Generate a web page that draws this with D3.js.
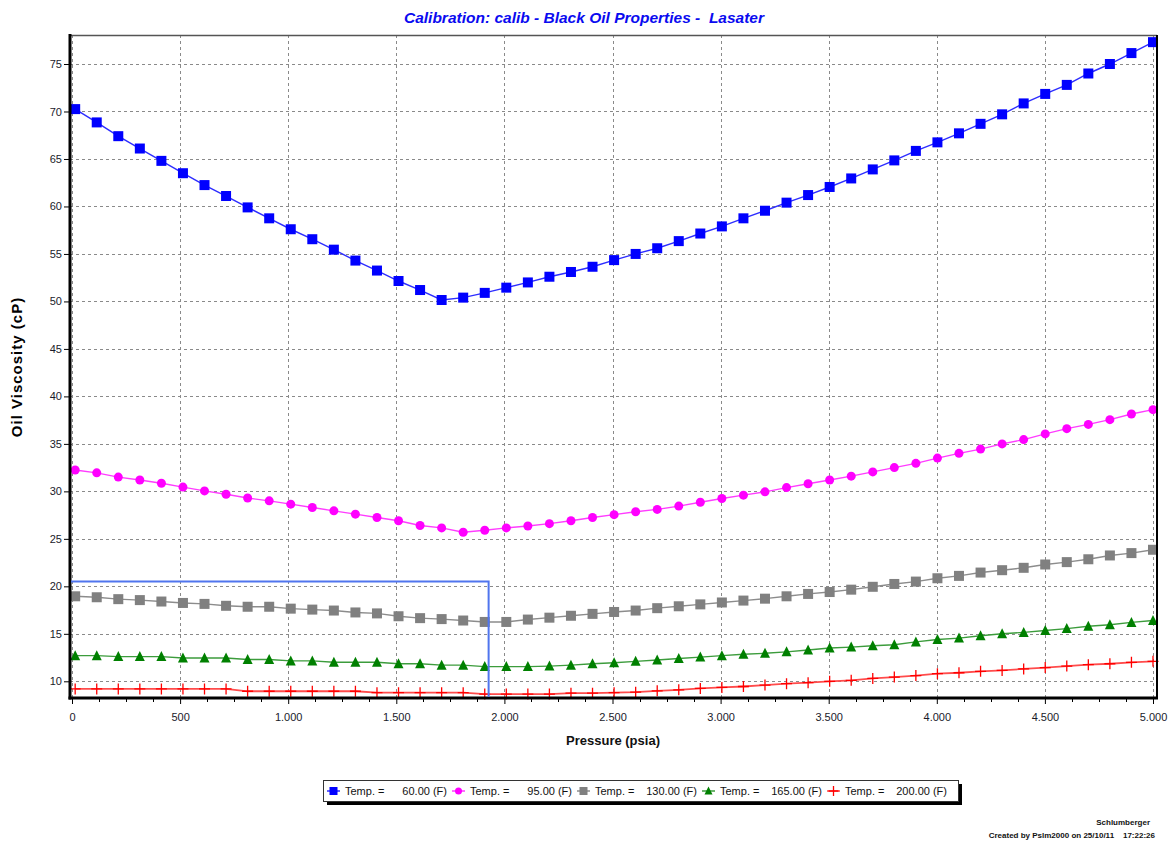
<!DOCTYPE html>
<html><head><meta charset="utf-8">
<script src="https://cdn.jsdelivr.net/npm/d3@7"></script>
<style>
html,body{margin:0;padding:0;background:#fff;}
svg{display:block;font-family:"Liberation Sans",Arial,sans-serif;}
text{white-space:pre;}
</style></head><body>
<svg id="chart" width="1176" height="844"></svg>
<script>
// ---------- data ----------
const pressure = [14.7,114.4,214.1,313.8,413.5,513.2,612.9,712.6,812.3,912.1,1011.8,1111.5,1211.2,1310.9,1410.6,1510.3,1610.0,1709.7,1809.4,1909.1,2008.8,2108.5,2208.2,2307.9,2407.6,2507.4,2607.1,2706.8,2806.5,2906.2,3005.9,3105.6,3205.3,3305.0,3404.7,3504.4,3604.1,3703.8,3803.5,3903.2,4002.9,4102.6,4202.4,4302.1,4401.8,4501.5,4601.2,4700.9,4800.6,4900.3,5000.0];
const visc60 = [70.25,68.85,67.4,66.1,64.8,63.5,62.25,61.1,59.9,58.75,57.6,56.55,55.45,54.3,53.25,52.15,51.2,50.15,50.4,50.9,51.45,52.0,52.6,53.1,53.65,54.35,55.0,55.6,56.35,57.15,57.9,58.75,59.55,60.4,61.2,62.05,62.95,63.9,64.85,65.85,66.75,67.7,68.7,69.7,70.85,71.85,72.8,74.0,75.0,76.15,77.3];
const visc95 = [32.25,31.95,31.5,31.2,30.85,30.45,30.05,29.7,29.3,29.0,28.65,28.3,27.95,27.6,27.25,26.9,26.4,26.15,25.7,25.9,26.15,26.35,26.6,26.9,27.25,27.55,27.85,28.1,28.45,28.85,29.25,29.6,29.95,30.4,30.8,31.2,31.6,32.05,32.5,32.95,33.5,34.0,34.45,35.0,35.45,36.05,36.6,37.05,37.55,38.15,38.6];
const visc130 = [18.95,18.85,18.65,18.55,18.4,18.25,18.15,17.95,17.85,17.85,17.65,17.55,17.45,17.25,17.15,16.85,16.65,16.55,16.4,16.25,16.25,16.5,16.7,16.9,17.1,17.3,17.45,17.7,17.9,18.1,18.3,18.5,18.7,18.95,19.2,19.4,19.65,19.95,20.25,20.5,20.85,21.1,21.45,21.7,21.95,22.3,22.55,22.85,23.25,23.5,23.85];
const visc165 = [12.7,12.7,12.6,12.6,12.6,12.45,12.45,12.45,12.3,12.3,12.15,12.15,12.0,12.0,12.0,11.85,11.85,11.7,11.7,11.55,11.55,11.55,11.6,11.7,11.85,11.95,12.1,12.25,12.4,12.55,12.7,12.85,12.95,13.1,13.3,13.5,13.6,13.75,13.85,14.15,14.4,14.55,14.8,15.0,15.15,15.35,15.55,15.8,15.95,16.2,16.4];
const visc200 = [9.2,9.2,9.2,9.2,9.2,9.2,9.2,9.2,8.95,8.95,8.95,8.95,8.95,8.95,8.8,8.8,8.8,8.8,8.8,8.65,8.65,8.65,8.65,8.75,8.75,8.8,8.85,9.0,9.1,9.25,9.35,9.45,9.6,9.75,9.85,10.0,10.1,10.3,10.45,10.6,10.8,10.9,11.05,11.15,11.3,11.45,11.6,11.75,11.85,12.0,12.1];
const tempLabels = ["60.00 (F)","95.00 (F)","130.00 (F)","165.00 (F)","200.00 (F)"];
const xTicks = [0,500,1000,1500,2000,2500,3000,3500,4000,4500,5000];
const yTicks = [10,15,20,25,30,35,40,45,50,55,60,65,70,75];
const boxPressure = 1927;   // selection box corner (psia)
const boxVisc = 20.5;       // selection box corner (cP)

// ---------- layout ----------
const L = 70, R = 1157, T = 35, B = 698;
const svg = d3.select("#chart");
const x = d3.scaleLinear().domain([0, 5000]).range([72, 1153]);
const y = d3.scaleLinear().domain([10, 75]).range([681.3, 64]);

const series = [
  {v: visc60,  color:"#0000ff", line:"#2d2dff", sym:"square"},
  {v: visc95,  color:"#ff00ff", line:"#ff3cff", sym:"circle"},
  {v: visc130, color:"#808080", line:"#8c8c8c", sym:"square"},
  {v: visc165, color:"#008000", line:"#3c9c3c", sym:"triangle"},
  {v: visc200, color:"#ff0000", line:"#ff4c4c", sym:"plus"}
];

// grid
const grid = svg.append("g").attr("stroke","#8a8a8a").attr("stroke-width",1).attr("stroke-dasharray","3,3");
grid.selectAll(".gx").data(xTicks).join("line")
  .attr("x1",d=>Math.round(x(d))+0.5).attr("x2",d=>Math.round(x(d))+0.5).attr("y1",T).attr("y2",B);
grid.selectAll(".gy").data(yTicks).join("line")
  .attr("y1",d=>Math.round(y(d))+0.5).attr("y2",d=>Math.round(y(d))+0.5).attr("x1",L).attr("x2",R);

// marker drawer
function drawMarker(g, sym, color, size){
  const s = size;
  if (sym === "square") {
    g.append("rect").attr("x",-s/2).attr("y",-s/2).attr("width",s).attr("height",s).attr("fill",color);
  } else if (sym === "circle") {
    g.append("circle").attr("r",s/2 - 0.5).attr("fill",color);
  } else if (sym === "triangle") {
    g.append("path").attr("d",`M0,${-s/2-0.5}L${s/2},${s/2-0.5}L${-s/2},${s/2-0.5}Z`).attr("fill",color);
  } else if (sym === "plus") {
    g.append("path").attr("d",`M${-s/2},0H${s/2}M0,${-s/2}V${s/2}`).attr("stroke",color).attr("stroke-width",1.3).attr("fill","none");
  }
}

const lineGen = d3.line().x((d,i)=>x(pressure[i])).y(d=>y(d));
series.forEach(s=>{
  const g = svg.append("g");
  g.append("path").datum(s.v).attr("d",lineGen).attr("fill","none")
    .attr("stroke",s.line).attr("stroke-width", s.sym==="plus"?1.8:1.4);
  s.v.forEach((d,i)=>{
    const m = g.append("g").attr("transform",`translate(${x(pressure[i])},${y(d)})`);
    drawMarker(m, s.sym, s.color, s.sym==="circle"?10:(s.sym==="plus"?11:10));
  });
});

// axes
const locale = d3.formatLocale({decimal:",", thousands:".", grouping:[3], currency:["",""]});
const fmtX = locale.format(",d");
const xAxis = svg.append("g").attr("transform",`translate(0,${B+1})`)
  .call(d3.axisBottom(x).tickValues(xTicks).tickSize(5).tickPadding(9).tickFormat(fmtX));
const minor = d3.range(0,5001,125).filter(d=>d%500!==0);
svg.append("g").selectAll("line").data(minor).join("line")
  .attr("x1",d=>Math.round(x(d))+0.5).attr("x2",d=>Math.round(x(d))+0.5)
  .attr("y1",B+1).attr("y2",B+4).attr("stroke","#000");
const yAxis = svg.append("g").attr("transform",`translate(${L-1},0)`)
  .call(d3.axisLeft(y).tickValues(yTicks).tickSize(5).tickPadding(2));
[xAxis,yAxis].forEach(a=>{
  a.select(".domain").remove();
  a.selectAll("text").attr("font-family","'Liberation Sans',Arial,sans-serif").attr("font-size",11).attr("fill","#1a1a2a");
  a.selectAll(".tick line").attr("stroke","#000");
});

// frame
svg.append("line").attr("x1",L).attr("x2",R).attr("y1",T+0.5).attr("y2",T+0.5).attr("stroke","#555").attr("stroke-width",1.5);
svg.append("line").attr("x1",R).attr("x2",R).attr("y1",T).attr("y2",B).attr("stroke","#000").attr("stroke-width",2);
svg.append("line").attr("x1",L).attr("x2",L).attr("y1",T-1).attr("y2",B+1.5).attr("stroke","#000").attr("stroke-width",3);
svg.append("line").attr("x1",L-1.5).attr("x2",R+1).attr("y1",B).attr("y2",B).attr("stroke","#000").attr("stroke-width",3);

// selection box
svg.append("path")
  .attr("d",`M${L+1},${y(boxVisc)}H${x(boxPressure)}V${B-1}`)
  .attr("fill","none").attr("stroke","#5075ee").attr("stroke-width",2);

// titles
svg.append("text").attr("x",584).attr("y",23).attr("text-anchor","middle")
  .attr("font-size",15.5).attr("font-weight","bold").attr("font-style","italic").attr("fill","#0a0af0")
  .text("Calibration: calib - Black Oil Properties -  Lasater");
svg.append("text").attr("transform","translate(22,367) rotate(-90)").attr("text-anchor","middle")
  .attr("font-size",15).attr("font-weight","bold").attr("letter-spacing","1px").attr("fill","#000")
  .text("Oil Viscosity (cP)");
svg.append("text").attr("x",613).attr("y",745).attr("text-anchor","middle")
  .attr("font-size",13).attr("font-weight","bold").attr("fill","#111")
  .text("Pressure (psia)");

// legend
const lg = svg.append("g");
lg.append("rect").attr("x",327).attr("y",784).attr("width",635).attr("height",21).attr("fill","#000");
lg.append("rect").attr("x",323.5).attr("y",780.5).attr("width",635).attr("height",21).attr("fill","#fff").attr("stroke","#333").attr("stroke-width",1);
series.forEach((s,i)=>{
  const x0 = 327 + i*125;
  const g = lg.append("g");
  g.append("line").attr("x1",x0).attr("x2",x0+13).attr("y1",791).attr("y2",791).attr("stroke",s.line).attr("stroke-width",1.5);
  const m = g.append("g").attr("transform",`translate(${x0+6.5},791)`);
  drawMarker(m, s.sym, s.color, s.sym==="plus"?10:8);
  g.append("text").attr("x",x0+18).attr("y",795).attr("font-size",11).attr("fill","#111").text("Temp. =");
  g.append("text").attr("x",x0+120).attr("y",795).attr("text-anchor","end").attr("font-size",11).attr("fill","#111").text(tempLabels[i]);
});

// footer
svg.append("text").attr("x",1150).attr("y",825).attr("text-anchor","end").attr("font-size",8).attr("font-weight","bold").attr("fill","#111").text("Schlumberger");
svg.append("text").attr("x",1155).attr("y",838).attr("text-anchor","end").attr("font-size",8).attr("font-weight","bold").attr("fill","#111").text("Created by Pslm2000 on 25/10/11    17:22:26");
</script>
</body></html>
